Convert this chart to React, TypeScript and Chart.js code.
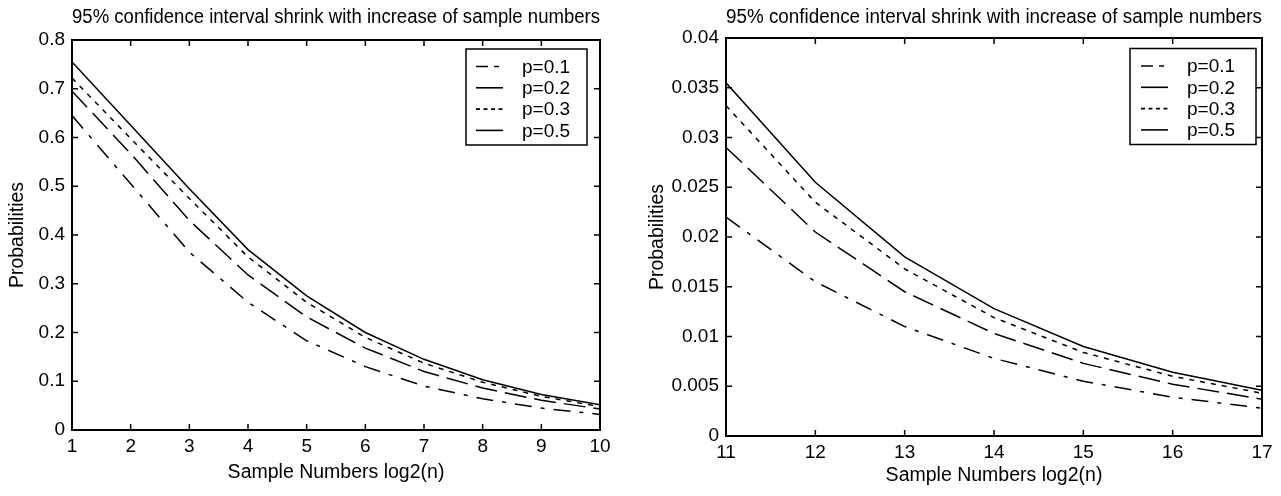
import React, { useEffect, useRef } from 'react';
import { Chart, registerables } from 'chart.js';

Chart.register(...registerables);

// ---------- data ----------
const seriesLabels = ['p=0.1', 'p=0.2', 'p=0.3', 'p=0.5'];
const chartTitle = '95% confidence interval shrink with increase of sample numbers';
const xTitle = 'Sample Numbers log2(n)';
const yTitle = 'Probabilities';

const leftX = [1, 2, 3, 4, 5, 6, 7, 8, 9, 10];
const leftP01 = [0.645, 0.505, 0.365, 0.262, 0.183, 0.13, 0.09, 0.064, 0.045, 0.032];
const leftP02 = [0.695, 0.567, 0.43, 0.318, 0.232, 0.168, 0.12, 0.086, 0.061, 0.043];
const leftP03 = [0.722, 0.598, 0.475, 0.355, 0.262, 0.19, 0.137, 0.098, 0.069, 0.048];
const leftP05 = [0.755, 0.625, 0.495, 0.37, 0.275, 0.2, 0.145, 0.103, 0.073, 0.052];

const rightX = [11, 12, 13, 14, 15, 16, 17];
const rightP01 = [0.022, 0.0155, 0.011, 0.0078, 0.0055, 0.0039, 0.0028];
const rightP02 = [0.029, 0.0205, 0.0145, 0.0103, 0.0073, 0.0052, 0.0037];
const rightP03 = [0.0332, 0.0235, 0.0168, 0.0119, 0.0084, 0.006, 0.0043];
const rightP05 = [0.0355, 0.0255, 0.018, 0.0128, 0.009, 0.0064, 0.0046];

// ---------- styles ----------
const FONT = "'Liberation Sans', Arial, Helvetica, sans-serif";
const lineStyles = [
  { dash: [17, 9, 4, 9], legendDash: [12, 6, 5, 30] },
  { dash: [22, 8], legendDash: [] },
  { dash: [5, 6], legendDash: [4, 3.5] },
  { dash: [], legendDash: [] },
];

const fmt = (v: any) => String(parseFloat(Number(v).toFixed(4)));

const framePlugin = {
  id: 'frame',
  afterDatasetsDraw(chart: any) {
    const { ctx, chartArea: a, scales } = chart;
    ctx.save();
    ctx.strokeStyle = '#000';
    ctx.lineWidth = 2;
    ctx.strokeRect(a.left, a.top, a.right - a.left, a.bottom - a.top);
    const L = 6;
    ctx.lineWidth = 1.5;
    ctx.beginPath();
    scales.x.ticks.forEach((t: any) => {
      const px = scales.x.getPixelForValue(t.value);
      ctx.moveTo(px, a.bottom);
      ctx.lineTo(px, a.bottom - L);
      ctx.moveTo(px, a.top);
      ctx.lineTo(px, a.top + L);
    });
    scales.y.ticks.forEach((t: any) => {
      const py = scales.y.getPixelForValue(t.value);
      ctx.moveTo(a.left, py);
      ctx.lineTo(a.left + L, py);
      ctx.moveTo(a.right, py);
      ctx.lineTo(a.right - L, py);
    });
    ctx.stroke();
    ctx.restore();
  },
};

const boxLegendPlugin = {
  id: 'boxLegend',
  afterDraw(chart: any, _args: any, opts: any) {
    const { ctx, chartArea: a } = chart;
    const x0 = a.right - opts.rightGap - opts.width;
    const y0 = a.top + opts.topGap;
    ctx.save();
    ctx.fillStyle = '#fff';
    ctx.fillRect(x0, y0, opts.width, opts.height);
    ctx.strokeStyle = '#000';
    ctx.lineWidth = 1.5;
    ctx.strokeRect(x0, y0, opts.width, opts.height);
    ctx.font = `19px ${FONT}`;
    ctx.textBaseline = 'middle';
    ctx.textAlign = 'left';
    chart.data.datasets.forEach((ds: any, i: number) => {
      const cy = y0 + opts.rowStart + i * opts.rowStep;
      ctx.beginPath();
      ctx.setLineDash(ds.legendDash || []);
      ctx.lineWidth = 1.6;
      ctx.moveTo(x0 + opts.lineLeft, cy);
      ctx.lineTo(x0 + opts.lineLeft + opts.lineLen, cy);
      ctx.stroke();
      ctx.setLineDash([]);
      ctx.fillStyle = '#000';
      ctx.fillText(ds.label, x0 + opts.textLeft, cy + 1);
    });
    ctx.restore();
  },
};

function makeConfig(xs: number[], series: number[][], g: any): any {
  return {
    type: 'line',
    data: {
      datasets: series.map((vals, i) => ({
        label: seriesLabels[i],
        data: xs.map((x, j) => ({ x, y: vals[j] })),
        borderColor: '#000',
        borderWidth: 1.5,
        borderDash: lineStyles[i].dash,
        legendDash: lineStyles[i].legendDash,
        pointRadius: 0,
        fill: false,
        tension: 0,
      })),
    },
    options: {
      responsive: false,
      animation: false,
      devicePixelRatio: 1,
      layout: { padding: { left: 0, right: g.padRight, top: 0, bottom: 0 } },
      plugins: {
        legend: { display: false },
        tooltip: { enabled: false },
        title: {
          display: true,
          text: chartTitle,
          color: '#000',
          fullSize: false,
          font: { family: FONT, size: 20, weight: 'normal', lineHeight: 1.2 },
          padding: { top: 5, bottom: g.top - 24 - 5 },
        },
        boxLegend: g.legend,
      },
      scales: {
        x: {
          type: 'linear',
          min: g.xMin,
          max: g.xMax,
          ticks: {
            stepSize: 1,
            padding: 5,
            color: '#000',
            maxRotation: 0,
            autoSkip: false,
            font: { family: FONT, size: 19 },
            callback: fmt,
          },
          grid: { display: false, drawTicks: false },
          border: { display: false },
          title: {
            display: true,
            text: xTitle,
            color: '#000',
            font: { family: FONT, size: 19.5, lineHeight: 1.2 },
            padding: { top: 0, bottom: g.xTitlePad },
          },
          afterFit: (s: any) => {
            s.height = g.bottomH;
          },
        },
        y: {
          type: 'linear',
          min: 0,
          max: g.yMax,
          ticks: {
            stepSize: g.yStep,
            padding: 7,
            color: '#000',
            font: { family: FONT, size: 19 },
            callback: fmt,
          },
          grid: { display: false, drawTicks: false },
          border: { display: false },
          title: {
            display: true,
            text: yTitle,
            color: '#000',
            font: { family: FONT, size: 19.5, lineHeight: 1.2 },
            padding: { top: 6, bottom: 0 },
          },
          afterFit: (s: any) => {
            s.width = g.yW;
          },
        },
      },
    },
    plugins: [framePlugin, boxLegendPlugin],
  };
}

const leftGeom = {
  padRight: 40,
  top: 40,
  bottomH: 66,
  yW: 72,
  xMin: 1,
  xMax: 10,
  yMax: 0.8,
  yStep: 0.1,
  xTitlePad: 12,
  legend: { rightGap: 13, topGap: 9, width: 121, height: 96, rowStart: 17.5, rowStep: 21.3, lineLeft: 10, lineLen: 27, textLeft: 56 },
};

const rightGeom = {
  padRight: 19,
  top: 38,
  bottomH: 60,
  yW: 86,
  xMin: 11,
  xMax: 17,
  yMax: 0.04,
  yStep: 0.005,
  xTitlePad: 9,
  legend: { rightGap: 6, topGap: 10.5, width: 126, height: 96, rowStart: 17.5, rowStep: 21.3, lineLeft: 11, lineLen: 27, textLeft: 57 },
};

function Panel({ make, left, width }: { make: () => any; left: number; width: number }) {
  const ref = useRef<HTMLCanvasElement>(null);
  useEffect(() => {
    const chart = new Chart(ref.current as HTMLCanvasElement, make());
    return () => chart.destroy();
  }, []);
  return (
    <canvas
      ref={ref}
      width={width}
      height={496}
      style={{ position: 'absolute', left, top: 0, width, height: 496 }}
    />
  );
}

export default function App() {
  return (
    <div style={{ position: 'absolute', left: 0, top: 0, width: 1281, height: 496, background: '#fff' }}>
      <Panel left={0} width={640} make={() => makeConfig(leftX, [leftP01, leftP02, leftP03, leftP05], leftGeom)} />
      <Panel left={640} width={641} make={() => makeConfig(rightX, [rightP01, rightP02, rightP03, rightP05], rightGeom)} />
    </div>
  );
}
